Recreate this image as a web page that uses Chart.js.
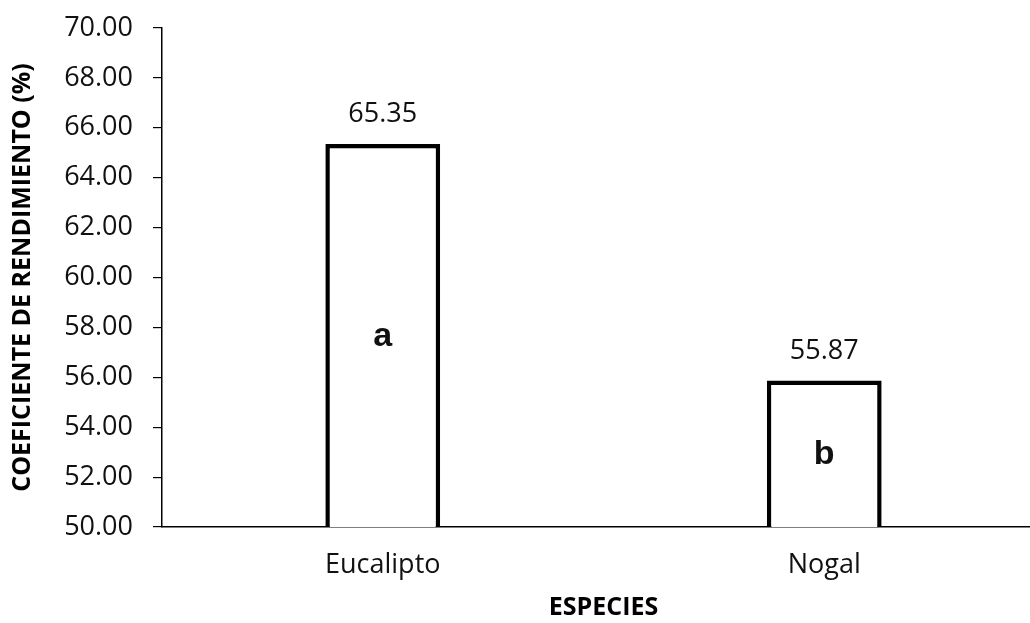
<!DOCTYPE html>
<html>
<head>
<meta charset="utf-8">
<script src="https://cdn.jsdelivr.net/npm/chart.js@4/dist/chart.umd.min.js"></script>
<style>
  html, body { margin: 0; padding: 0; background: #fff; overflow: hidden; }
  canvas { display: block; }
</style>
</head>
<body>
<canvas id="chart" width="1045" height="623"></canvas>
<script>
// Species and their yield coefficient (%)
const categories = ['Eucalipto', 'Nogal'];
const rendimiento = [65.35, 55.87];
// Significance group letters shown inside each bar
const letras = ['a', 'b'];
// Y axis range
const yMin = 50;
const yMax = 70;
const yStep = 2;

// Value labels above bars and group letters inside them
const barLabels = {
  id: 'barLabels',
  afterDatasetsDraw(chart) {
    const ctx = chart.ctx;
    const meta = chart.getDatasetMeta(0);
    const yScale = chart.scales.y;
    ctx.save();
    meta.data.forEach((bar, i) => {
      const v = chart.data.datasets[0].data[i];
      ctx.fillStyle = '#111';
      ctx.font = '27px "Open Sans"';
      ctx.textAlign = 'center';
      ctx.textBaseline = 'alphabetic';
      ctx.fillText(v.toFixed(2), bar.x, bar.y - 22);

      const mid = (bar.y + yScale.getPixelForValue(yMin)) / 2;
      ctx.font = 'bold 34px "Liberation Sans", Arial, sans-serif';
      ctx.textBaseline = 'middle';
      ctx.fillText(letras[i], bar.x, mid + 1);
    });
    ctx.restore();
  }
};

new Chart(document.getElementById('chart'), {
  type: 'bar',
  data: {
    labels: categories,
    datasets: [{
      data: rendimiento,
      backgroundColor: '#ffffff',
      borderColor: '#000000',
      borderWidth: 4.5,
      borderSkipped: false,
      categoryPercentage: 1,
      barPercentage: 0.26
    }]
  },
  options: {
    responsive: false,
    animation: false,
    layout: { padding: { top: 28, right: 0, bottom: 0, left: 0 } },
    plugins: {
      legend: { display: false },
      tooltip: { enabled: false }
    },
    scales: {
      x: {
        grid: { display: false, drawTicks: false },
        border: { color: '#000', width: 1.5 },
        ticks: {
          color: '#111',
          padding: 22,
          font: { family: 'Open Sans', size: 27 }
        },
        title: {
          display: true,
          text: 'ESPECIES',
          color: '#000',
          padding: { top: 0, bottom: 0 },
          font: { family: 'Open Sans', size: 25, weight: 'bold' }
        },
        afterFit(scale) { scale.height = 96; }
      },
      y: {
        min: yMin,
        max: yMax,
        grid: { drawOnChartArea: false, drawTicks: true, tickLength: 9, color: '#000', lineWidth: 1.2 },
        border: { color: '#000', width: 1.5 },
        ticks: {
          stepSize: yStep,
          color: '#111',
          padding: 20,
          font: { family: 'Open Sans', size: 27 },
          callback: (value) => Number(value).toFixed(2)
        },
        title: {
          display: true,
          text: 'COEFICIENTE DE RENDIMIENTO (%)',
          color: '#000',
          padding: { top: 8, bottom: 0 },
          font: { family: 'Open Sans', size: 25, weight: 'bold' }
        },
        afterFit(scale) {
          scale.width = 162;
          scale.paddingTop = 0;
          scale.paddingBottom = 0;
        }
      }
    }
  },
  plugins: [barLabels]
});
</script>
</body>
</html>
